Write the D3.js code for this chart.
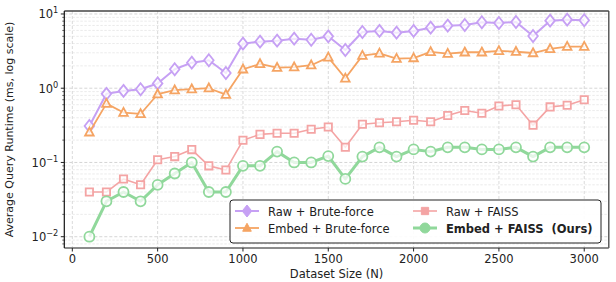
<!DOCTYPE html>
<html><head><meta charset="utf-8">
<script src="https://cdn.jsdelivr.net/npm/d3@7/dist/d3.min.js"></script>
<style>body{margin:0;background:#fff}svg{display:block}text{font-family:"DejaVu Sans",sans-serif}</style>
</head><body><svg id="c" width="616" height="282"></svg>
<script>
const sizes = d3.range(100, 3001, 100);
const rawBrute = [0.31,0.84,0.92,0.97,1.16,1.80,2.21,2.38,1.60,3.98,4.24,4.37,4.65,4.50,5.00,3.27,5.72,5.91,5.60,5.91,6.54,6.96,7.11,7.73,7.57,7.80,5.05,8.13,8.38,8.22];
const embedBrute = [0.255,0.62,0.47,0.45,0.83,0.94,0.97,1.00,0.82,1.80,2.12,1.89,1.92,2.04,2.60,1.36,2.75,2.95,2.50,2.55,3.08,2.92,3.05,3.05,3.18,3.10,2.98,3.38,3.63,3.63];
const rawFaiss = [0.040,0.040,0.060,0.050,0.109,0.120,0.149,0.090,0.079,0.199,0.239,0.247,0.247,0.280,0.300,0.160,0.327,0.343,0.354,0.370,0.354,0.430,0.500,0.460,0.577,0.600,0.318,0.560,0.590,0.700];
const embedFaiss = [0.010,0.030,0.040,0.030,0.050,0.071,0.100,0.040,0.040,0.090,0.090,0.140,0.100,0.100,0.122,0.060,0.120,0.160,0.120,0.150,0.140,0.160,0.160,0.150,0.150,0.160,0.120,0.160,0.160,0.160];
const xTicks = [0,500,1000,1500,2000,2500,3000];
const yTicks = [-2,-1,0,1];
const seriesNames = ["Raw + Brute-force","Embed + Brute-force","Raw + FAISS","Embed + FAISS  (Ours)"];

const series = [
  {name:seriesNames[0], values:rawBrute, color:"#c6a0f4", marker:"diamond", lw:2, ms:4.8},
  {name:seriesNames[1], values:embedBrute, color:"#f5a463", marker:"triangle", lw:1.8, ms:4.3},
  {name:seriesNames[2], values:rawFaiss, color:"#f4a4a4", marker:"square", lw:1.6, ms:4.3},
  {name:seriesNames[3], values:embedFaiss, color:"#90d89b", marker:"circle", lw:3, ms:5}
];

const svg = d3.select("#c");
const L=64.3, R=608.8, T=11, B=248;
const x = d3.scaleLinear().domain([-47, 3144]).range([L, R]);
const y = d3.scaleLog().domain([Math.pow(10,-2.152), Math.pow(10,1.04)]).range([B, T]);

// grid
const g = svg.append("g");
const minor = [];
for (let e=-3;e<=1;e++) for (let k=2;k<=9;k++){const v=k*Math.pow(10,e); if(v>y.domain()[0]&&v<y.domain()[1]) minor.push(v);}
g.selectAll(".mn").data(minor).enter().append("line")
  .attr("x1",L).attr("x2",R).attr("y1",d=>y(d)).attr("y2",d=>y(d))
  .attr("stroke","#e2e2e2").attr("stroke-width",0.7).attr("stroke-dasharray","2.5,1.5");
g.selectAll(".mj").data(yTicks).enter().append("line")
  .attr("x1",L).attr("x2",R).attr("y1",d=>y(Math.pow(10,d))).attr("y2",d=>y(Math.pow(10,d)))
  .attr("stroke","#d0d0d0").attr("stroke-width",0.9).attr("stroke-dasharray","3,2");
g.selectAll(".vx").data(xTicks).enter().append("line")
  .attr("x1",d=>x(d)).attr("x2",d=>x(d)).attr("y1",T).attr("y2",B)
  .attr("stroke","#d6d6d6").attr("stroke-width",0.9).attr("stroke-dasharray","3,2");

// markers
function markerPath(type, s){
  if(type==="diamond") return `M0,${-s*1.25}L${s},0L0,${s*1.25}L${-s},0Z`;
  if(type==="triangle") return `M0,${-s*1.1}L${s},${s*0.75}L${-s},${s*0.75}Z`;
  if(type==="square") return `M${-s*0.85},${-s*0.85}H${s*0.85}V${s*0.85}H${-s*0.85}Z`;
  return d3.symbol().type(d3.symbolCircle).size(Math.PI*s*s)();
}
const line = d3.line().x((d,i)=>x(sizes[i])).y(d=>y(d));
const plot = svg.append("g");
series.forEach(s=>{
  plot.append("path").attr("d",line(s.values)).attr("fill","none")
    .attr("stroke",s.color).attr("stroke-width",s.lw).attr("stroke-linejoin","round");
  plot.selectAll(null).data(s.values).enter().append("path")
    .attr("transform",(d,i)=>`translate(${x(sizes[i])},${y(d)})`)
    .attr("d",markerPath(s.marker,s.ms))
    .attr("fill","#fff").attr("fill-opacity",0.75)
    .attr("stroke",s.color).attr("stroke-width",1.8);
});

// spines
svg.append("line").attr("x1",L).attr("x2",R).attr("y1",T).attr("y2",T).attr("stroke","#444").attr("stroke-width",1.3);
svg.append("line").attr("x1",R).attr("x2",R).attr("y1",T).attr("y2",B).attr("stroke","#444").attr("stroke-width",1.3);
svg.append("line").attr("x1",L).attr("x2",R).attr("y1",B).attr("y2",B).attr("stroke","#666").attr("stroke-width",1.6);
svg.append("line").attr("x1",L).attr("x2",L).attr("y1",T).attr("y2",B).attr("stroke","#111").attr("stroke-width",1.2);

// x ticks
const xa = svg.append("g");
xTicks.forEach(t=>{
  xa.append("line").attr("x1",x(t)).attr("x2",x(t)).attr("y1",B).attr("y2",B+3.5).attr("stroke","#222");
  xa.append("text").attr("x",x(t)).attr("y",B+15).attr("text-anchor","middle").attr("font-size",11.5).attr("fill","#222").text(t);
});
// y ticks
const ya = svg.append("g");
yTicks.forEach(e=>{
  const yy=y(Math.pow(10,e));
  ya.append("line").attr("x1",L-3.5).attr("x2",L).attr("y1",yy).attr("y2",yy).attr("stroke","#222");
  const t = ya.append("text").attr("x",L-6).attr("y",yy+4.5).attr("text-anchor","end").attr("font-size",11.5).attr("fill","#222");
  t.append("tspan").text("10");
  t.append("tspan").attr("dy",-5).attr("font-size",8.2).text(e<0?"\u2212"+(-e):String(e));
});
minor.forEach(v=>{
  ya.append("line").attr("x1",L-2).attr("x2",L).attr("y1",y(v)).attr("y2",y(v)).attr("stroke","#222").attr("stroke-width",0.7);
});

svg.append("text").attr("x",(L+R)/2).attr("y",277.5).attr("text-anchor","middle").attr("font-size",11.5).attr("fill","#222").text("Dataset Size (N)");
svg.append("text").attr("transform",`translate(13,${(T+B)/2}) rotate(-90)`).attr("text-anchor","middle").attr("font-size",11).attr("fill","#222").text("Average Query Runtime (ms, log scale)");

// legend
const lg = svg.append("g");
lg.append("rect").attr("x",230).attr("y",200).attr("width",371).attr("height",43).attr("rx",3)
  .attr("fill","#fff").attr("fill-opacity",0.9).attr("stroke","#222").attr("stroke-width",1);
const pos = [[235,211],[235,228],[413,211],[413,228]];
series.forEach((s,i)=>{
  const [lx,ly]=pos[i];
  lg.append("line").attr("x1",lx).attr("x2",lx+24).attr("y1",ly).attr("y2",ly).attr("stroke",s.color).attr("stroke-width",s.lw);
  lg.append("path").attr("transform",`translate(${lx+12},${ly})`).attr("d",markerPath(s.marker,s.ms))
    .attr("fill",s.color).attr("stroke",s.color).attr("stroke-width",1);
  lg.append("text").attr("x",lx+33).attr("y",ly+4.5).attr("font-size",11.5).attr("fill","#222")
    .attr("font-weight",i===3?"bold":"normal").attr("xml:space","preserve").style("white-space","pre").text(s.name);
});
</script></body></html>
